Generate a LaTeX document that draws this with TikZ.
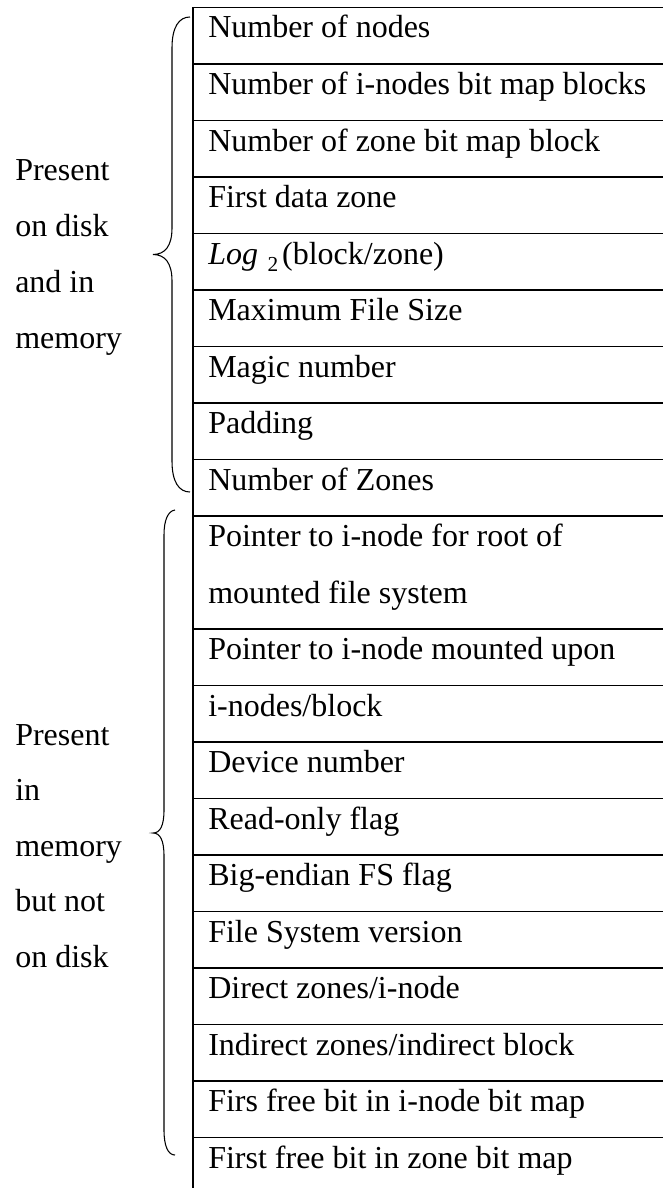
\documentclass[tikz,border=0pt]{standalone}
\usepackage{fontspec}
\setmainfont{Liberation Serif}
\begin{document}
\begin{tikzpicture}[x=0.75pt,y=-0.75pt,
  rule/.style={line width=1.2pt},
  brace/.style={line width=0.8pt},
  cell/.style={anchor=base west,inner sep=0pt,font=\fontsize{24pt}{28pt}\selectfont},
  side/.style={anchor=base west,inner sep=0pt,font=\fontsize{24pt}{28pt}\selectfont}]
\useasboundingbox (0,0) rectangle (663,1188);
% horizontal rules: row pitch 56.5, first rule at 7.5
\foreach \k in {0,...,9,11,12,...,20}{
  \draw[rule] (193,{7.5+56.5*\k}) -- (663,{7.5+56.5*\k});
}
% left edge of the table
\draw[rule] (193,7.5) -- (193,1188);
% field names
\node[cell] (r0)  at (208,{38+56.5*0})  {Number of nodes};
\node[cell] (r1)  at (208,{38+56.5*1})  {Number of i-nodes bit map blocks};
\node[cell] (r2)  at (208,{38+56.5*2})  {Number of zone bit map block};
\node[cell] (r3)  at (208,{38+56.5*3})  {First data zone};
\node[cell] (r4)  at (208,{38+56.5*4})  {\textit{Log}\hspace{0.3em}\raisebox{-0.22em}{\fontsize{16pt}{16pt}\selectfont 2}\hspace{0.12em}(block/zone)};
\node[cell] (r5)  at (208,{38+56.5*5})  {Maximum File Size};
\node[cell] (r6)  at (208,{38+56.5*6})  {Magic number};
\node[cell] (r7)  at (208,{38+56.5*7})  {Padding};
\node[cell] (r8)  at (208,{38+56.5*8})  {Number of Zones};
\node[cell] (r9)  at (208,{38+56.5*9})  {Pointer to i-node for root of};
\node[cell] (r9b) at (208,{38+56.5*10}) {mounted file system};
\node[cell] (r11) at (208,{38+56.5*11}) {Pointer to i-node mounted upon};
\node[cell] (r12) at (208,{38+56.5*12}) {i-nodes/block};
\node[cell] (r13) at (208,{38+56.5*13}) {Device number};
\node[cell] (r14) at (208,{38+56.5*14}) {Read-only flag};
\node[cell] (r15) at (208,{38+56.5*15}) {Big-endian FS flag};
\node[cell] (r16) at (208,{38+56.5*16}) {File System version};
\node[cell] (r17) at (208,{38+56.5*17}) {Direct zones/i-node};
\node[cell] (r18) at (208,{38+56.5*18}) {Indirect zones/indirect block};
\node[cell] (r19) at (208,{38+56.5*19}) {Firs free bit in i-node bit map};
\node[cell] (r20) at (208,{38+56.5*20}) {First free bit in zone bit map};
% braces
\draw[brace] (190,17) .. controls (179,17) and (172,27) .. (172,48)
  -- (172,228) .. controls (172,246) and (165,254.5) .. (153,254.5)
  .. controls (165,254.5) and (172,263) .. (172,281)
  -- (172,461) .. controls (172,482) and (179,492) .. (190,492);
\draw[brace] (175,510) .. controls (168,511) and (164,520) .. (164,535)
  -- (164,810) .. controls (164,826) and (160,833) .. (153,833)
  .. controls (160,833) and (164,840) .. (164,856)
  -- (164,1130) .. controls (164,1146) and (168,1155) .. (175,1155);
% group labels
\node[side] (a1) at (15,180) {Present};
\node[side] (a2) at (15,236) {on disk};
\node[side] (a3) at (15,292) {and in};
\node[side] (a4) at (15,348) {memory};
\node[side] (b1) at (15,745) {Present};
\node[side] (b2) at (15,800.5) {in};
\node[side] (b3) at (15,856) {memory};
\node[side] (b4) at (15,911.5) {but not};
\node[side] (b5) at (15,967) {on disk};
\end{tikzpicture}
\end{document}
